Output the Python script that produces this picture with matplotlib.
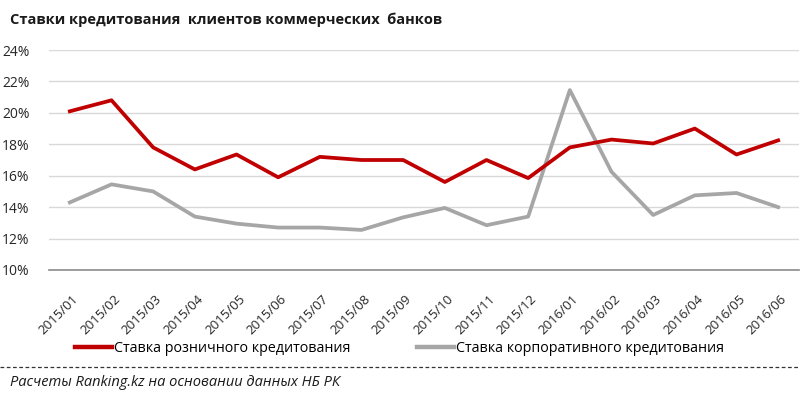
import matplotlib.pyplot as plt
import matplotlib.transforms as mtransforms
import numpy as np

plt.rcParams['font.family'] = ['Open Sans', 'DejaVu Sans']

# Data
months = ['2015/01', '2015/02', '2015/03', '2015/04', '2015/05', '2015/06',
          '2015/07', '2015/08', '2015/09', '2015/10', '2015/11', '2015/12',
          '2016/01', '2016/02', '2016/03', '2016/04', '2016/05', '2016/06']
retail = [20.1, 20.8, 17.8, 16.4, 17.35, 15.9, 17.2, 17.0, 17.0, 15.6, 17.0, 15.85,
          17.8, 18.3, 18.05, 19.0, 17.35, 18.25]
corporate = [14.3, 15.45, 15.0, 13.4, 12.95, 12.7, 12.7, 12.55, 13.35, 13.95, 12.85, 13.4,
             21.45, 16.25, 13.5, 14.75, 14.9, 14.0]
yticks = [10, 12, 14, 16, 18, 20, 22, 24]

red = '#C00000'
gray = '#A6A6A6'

fig = plt.figure(figsize=(8, 3.95), dpi=100)
ax = fig.add_axes([49 / 800, 1 - 270 / 395, 750 / 800, 220 / 395])

x = np.arange(len(months))
l1, = ax.plot(x, retail, color=red, linewidth=2.7, solid_joinstyle='round',
              label='Ставка розничного кредитования', zorder=3)
l2, = ax.plot(x, corporate, color=gray, linewidth=2.7, solid_joinstyle='round',
              label='Ставка корпоративного кредитования', zorder=2)

ax.set_xlim(-0.5, len(months) - 0.5)
ax.set_ylim(10, 24)
ax.set_yticks(yticks)
ax.set_yticklabels([f'{v}%' for v in yticks], fontsize=10, color='#262626')
ax.set_xticks(x)
ax.set_xticklabels(months, rotation=45, ha='right', rotation_mode='anchor',
                   fontsize=9.5, color='#262626')
ax.tick_params(axis='x', length=0, pad=16)
ax.tick_params(axis='y', length=0, pad=14)
shift = mtransforms.ScaledTranslation(2 / 100, 0, fig.dpi_scale_trans)
for lab in ax.get_xticklabels():
    lab.set_transform(lab.get_transform() + shift)

ax.grid(axis='y', color='#D9D9D9', linewidth=1.0)
ax.set_axisbelow(True)
for s in ['top', 'right', 'left']:
    ax.spines[s].set_visible(False)
ax.spines['bottom'].set_color('#8C8C8C')
ax.spines['bottom'].set_linewidth(1.2)

fig.text(10 / 800, 1 - 20 / 395, 'Ставки кредитования  клиентов коммерческих  банков',
         fontsize=10.5, fontweight='bold', va='center', ha='left', color='#1a1a1a')

leg = fig.legend(handles=[l1, l2], loc='center left', bbox_to_anchor=(75 / 800, 1 - 349 / 395),
                 ncol=2, frameon=False, fontsize=10.3, handlelength=2.6, handletextpad=0.15,
                 columnspacing=4.6, borderaxespad=0, borderpad=0)
for h in leg.legend_handles:
    h.set_linewidth(3.2)

fig.add_artist(plt.Line2D([0, 1], [1 - 367 / 395, 1 - 367 / 395], transform=fig.transFigure,
                          color='#333333', linewidth=0.9, linestyle=(0, (3, 2))))
fig.text(10 / 800, 1 - 382 / 395, 'Расчеты Ranking.kz на основании данных НБ РК',
         fontsize=10.5, style='italic', va='center', ha='left', color='#1a1a1a')

fig.savefig('out.png', dpi=100)
